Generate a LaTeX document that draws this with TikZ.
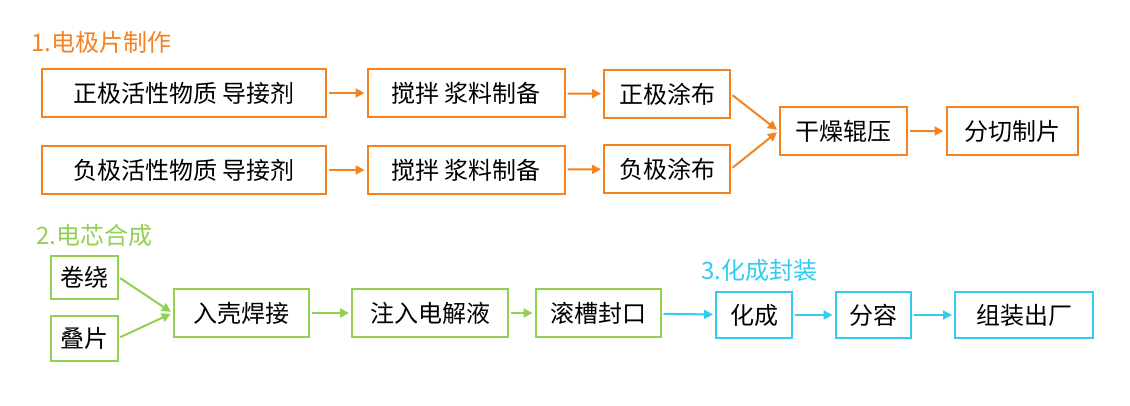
\documentclass[tikz,border=0pt]{standalone}
\usepackage{fontspec}
\setmainfont{Noto Sans CJK SC}
\usetikzlibrary{positioning,arrows.meta}
\definecolor{cOr}{HTML}{F58220}
\definecolor{cGr}{HTML}{92D050}
\definecolor{cCy}{HTML}{33CCEE}
\tikzset{
  stage/.style={draw=#1,line width=2pt,inner sep=0pt,minimum height=48pt,font=\fontsize{24}{28}\selectfont},
  flow/.style={draw=#1,line width=2pt,-{Triangle[length=9pt,width=9pt]},shorten >=2pt,shorten <=2pt},
  head/.style={text=#1,anchor=west,font=\fontsize{24}{28}\selectfont}
}
\begin{document}
\begin{tikzpicture}[x=1pt,y=-1pt]
  \useasboundingbox (0,0) rectangle (1130,405);
  % electrode sheets
  \node[head=cOr] (t1) at (28,42) {1.电极片制作};
  \node[stage=cOr,minimum width=284pt] (pm) at (184,93) {正极活性物质 导接剂};
  \node[stage=cOr,minimum width=197pt] (pj) at (466,93) {搅拌 浆料制备};
  \node[stage=cOr,minimum width=126pt] (pc) at (667,94) {正极涂布};
  \node[stage=cOr,minimum width=284pt] (nm) at (184,170) {负极活性物质 导接剂};
  \node[stage=cOr,minimum width=197pt] (nj) at (466,170) {搅拌 浆料制备};
  \node[stage=cOr,minimum width=126pt] (nc) at (667,169) {负极涂布};
  \node[stage=cOr,minimum width=127pt] (dry) at (843,131) {干燥辊压};
  \node[stage=cOr,minimum width=131pt] (cut) at (1012,131) {分切制片};
  \draw[flow=cOr] (pm) -- (pj);
  \draw[flow=cOr] (pj) -- (pc);
  \draw[flow=cOr] (nm) -- (nj);
  \draw[flow=cOr] (nj) -- (nc);
  \draw[flow=cOr] (pc.east) -- (dry.west);
  \draw[flow=cOr] (nc.east) -- (dry.west);
  \draw[flow=cOr] (dry) -- (cut);
  % cell assembly
  \node[head=cGr] (t2) at (33,235) {2.电芯合成};
  \node[stage=cGr,minimum width=67pt,minimum height=43pt] (wind) at (84,277) {卷绕};
  \node[stage=cGr,minimum width=67pt,minimum height=45pt] (stack) at (84,338) {叠片};
  \node[stage=cGr,minimum width=135pt] (weld) at (241,313) {入壳焊接};
  \node[stage=cGr,minimum width=156pt] (fill) at (430,313) {注入电解液};
  \node[stage=cGr,minimum width=125pt] (seal) at (598,313) {滚槽封口};
  \draw[flow=cGr] (wind.east) -- (weld.west);
  \draw[flow=cGr] (stack.east) -- (weld.west);
  \draw[flow=cGr] (weld) -- (fill);
  \draw[flow=cGr] (fill) -- (seal);
  % formation and packing
  \node[head=cCy] (t3) at (698,270) {3.化成封装};
  \node[stage=cCy,minimum width=76pt,minimum height=46pt] (form) at (754,315) {化成};
  \node[stage=cCy,minimum width=75pt,minimum height=46pt] (grade) at (873,315) {分容};
  \node[stage=cCy,minimum width=138pt,minimum height=46pt] (ship) at (1024,315) {组装出厂};
  \draw[flow=cCy] (seal) -- (form);
  \draw[flow=cCy] (form) -- (grade);
  \draw[flow=cCy] (grade) -- (ship);
\end{tikzpicture}
\end{document}
